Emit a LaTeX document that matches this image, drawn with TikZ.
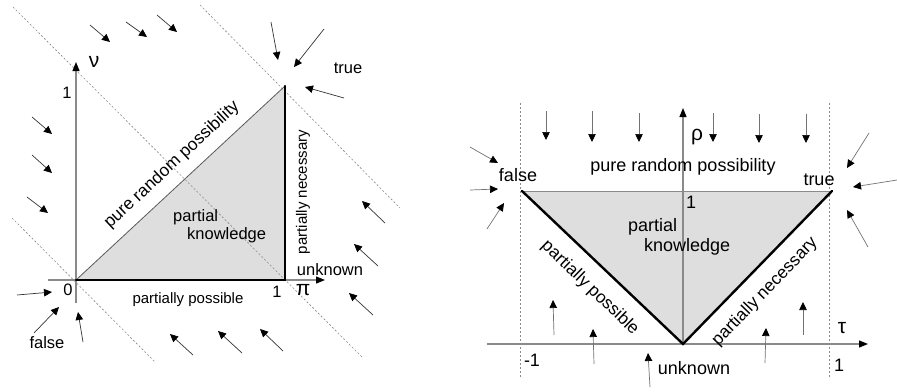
\documentclass[tikz,border=0pt]{standalone}
\usepackage{fontspec}
\setmainfont{Liberation Sans}
\usetikzlibrary{arrows.meta}
\definecolor{areagray}{HTML}{DEDEDE}
\definecolor{axisgray}{HTML}{8A8A8A}
\definecolor{linegray}{HTML}{5A5A5A}

\begin{document}
\begin{tikzpicture}[x=1pt,y=-1pt,
    field/.style={-{Triangle[length=8pt,width=7.5pt,black]},line width=0.7pt,black!80},
    lightfield/.style={field,black!55},
    axis/.style={-{Triangle[length=9pt,width=7pt,black]},line width=1.2pt,axisgray},
    border/.style={line width=2.4pt,black,line cap=round},
    guide/.style={axisgray,line width=0.6pt,dash pattern=on 2pt off 2pt},
    lbl/.style={font=\fontsize{16.5}{18}\selectfont,inner sep=0pt},
    smalllbl/.style={font=\fontsize{15}{17}\selectfont,inner sep=0pt},
    rlbl/.style={font=\fontsize{18}{20}\selectfont,inner sep=0pt},
    greek/.style={font=\fontsize{21}{23}\selectfont,inner sep=0pt}]
      \useasboundingbox (0,0) rectangle (897,391);
      % left: (pi, nu)
      \coordinate (lo) at (76,280);
      \coordinate (lp) at (285,280);
      \coordinate (lt) at (285,86);
      \fill[areagray] (lo) -- (lp) -- (lt) -- cycle;
      \draw[guide] (12,218) -- (155,362);
      \draw[guide] (13,7) -- (363,358);
      \draw[guide] (200,5) -- (400,208);
      \draw[axis] (48,280) -- (325,280);
      \draw[axis] (76,303) -- (76,62);
      \draw[linegray,line width=0.8pt] (lo) -- (lt);
      \draw[border] (lo) -- (lp) -- (lt);
      \node[greek] (nu) at (94,62) {ν};
      \node[greek] (pi) at (303,290) {π};
      \node[lbl] (lone) at (67,93) {1};
      \node[lbl] (lzero) at (68,290) {0};
      \node[lbl] (pone) at (277,292) {1};
      \node[lbl] (lunknown) at (330,270) {unknown};
      \node[lbl] (ltrue) at (348,68) {true};
      \node[lbl] (lfalse) at (47,343) {false};
      \node[smalllbl] (lposs) at (188,300) {partially possible};
      \node[smalllbl,rotate=90] (lnec) at (303,192) {partially necessary};
      \node[lbl,font=\fontsize{17.3}{19}\selectfont,rotate=43] (lrand) at (172,165) {pure random possibility};
      \node[lbl,align=left,anchor=west] (lknow) at (173,226)
        {partial\\\hspace*{14pt}knowledge};
      \foreach \a/\b/\c/\d in {90/25/110/42,126/22/147/37,157/15/177/32,
          271/22/278/60,324/29/294/67,344/98/305/87,
          32/117/52/134,32/155/52/173,27/197/48/213,
          385/223/362/201,378/266/354/244,373/315/349/293,
          193/355/170/334,242/353/218/331,283/351/260/329,
          17/295/52/292,34/333/59/307,83/342/78/312}
        \draw[field] (\a,\b) -- (\c,\d);
      % right: (tau, rho)
      \coordinate (rf) at (522,191);
      \coordinate (rt) at (832,191);
      \coordinate (ru) at (683,344);
      \fill[areagray] (rf) -- (rt) -- (ru) -- cycle;
      \draw[guide] (520,103) -- (520,377);
      \draw[guide] (829,103) -- (829,377);
      \draw[axis] (487,344) -- (868,344);
      \draw[axis] (ru) -- (683,108);
      \draw[axisgray,line width=1pt] (rf) -- (rt);
      \draw[border] (rf) -- (ru) -- (rt);
      \node[greek] (rho) at (697,137) {ρ};
      \node[greek] (tau) at (842,328) {τ};
      \node[rlbl] (rone) at (691,202) {1};
      \node[rlbl] (tmone) at (532,360) {-1};
      \node[rlbl] (tone) at (839,365) {1};
      \node[rlbl] (rfalse) at (518,175) {false};
      \node[rlbl] (rtrue) at (819,180) {true};
      \node[rlbl] (runknown) at (694,368) {unknown};
      \node[rlbl] (rrand) at (683,167) {pure random possibility};
      \node[rlbl,align=left,anchor=west] (rknow) at (628,237)
        {partial\\\hspace*{16pt}knowledge};
      \node[lbl,font=\fontsize{17.3}{19}\selectfont,rotate=-44] (rposs) at (590,288) {partially possible};
      \node[lbl,font=\fontsize{17.3}{19}\selectfont,rotate=46] (rnec) at (765,292) {partially necessary};
      \foreach \a/\b/\c/\d in {546/111/546/140,592/111/592/142,639/113/639/142,
          713/113/713/142,759/114/759/143,806/114/806/143,
          470/147/498/163,470/190/498/189,487/229/504/203,
          869/133/847/168,897/180/853/187,868/247/847/210,
          554/335/553/300,594/364/593/329,650/387/648/353,
          765/363/766/328,803/335/803/302}
        \draw[lightfield] (\a,\b) -- (\c,\d);
    \end{tikzpicture}
\end{document}
